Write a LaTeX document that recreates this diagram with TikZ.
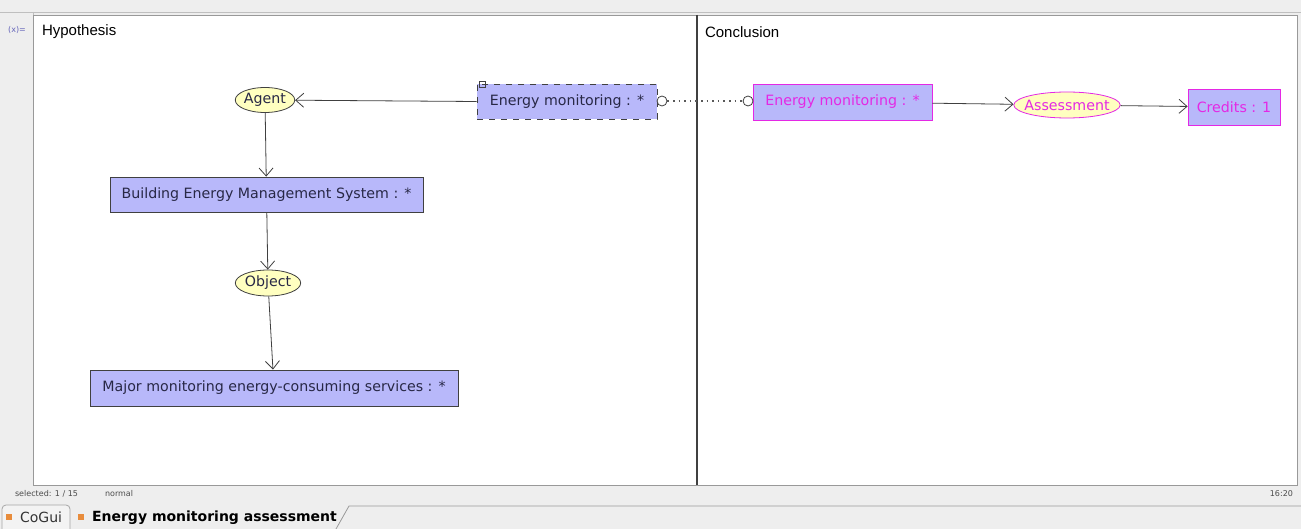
\documentclass[tikz,border=0pt]{standalone}
\usepackage{fontspec}
\setmainfont{DejaVu Sans}
\newfontfamily\panelfont{Liberation Sans}
\usetikzlibrary{arrows.meta,shapes.geometric}
\definecolor{conceptfill}{RGB}{184,184,250}
\definecolor{relfill}{RGB}{255,255,192}
\definecolor{conclmagenta}{RGB}{228,40,228}
\definecolor{guigray}{RGB}{238,238,238}
\definecolor{tabsquare}{RGB}{232,140,60}
\definecolor{labelink}{RGB}{40,40,70}

\begin{document}
\begin{tikzpicture}[
  x=0.5pt, y=-0.5pt,
  font=\fontsize{7.1}{8.5}\selectfont,
  concept/.style={
      draw=black!75,
      fill=conceptfill,
      text=labelink,
      inner sep=0pt,
      minimum height=17.5pt
    },
  relation/.style={
      ellipse,
      draw=black!75,
      fill=relfill,
      text=labelink,
      inner sep=0pt,
      minimum height=12.5pt
    },
  concl/.style={
      draw=conclmagenta,
      text=conclmagenta
    },
  link/.style={
      draw=black!75,
      arrows = {-Straight Barb[length=4pt,width=7pt]}
    },
  coref/.style={
      circle,
      draw=black!75,
      fill=white,
      inner sep=0pt,
      minimum size=5pt
    },
  heading/.style={
      anchor=west,
      font=\panelfont\fontsize{7.5}{9}\selectfont
    },
  status/.style={
      anchor=west,
      text=black!70,
      font=\fontsize{4}{5}\selectfont
    }]

  \useasboundingbox (0,0) rectangle (1301,529);
  \fill [guigray] (0,0) rectangle (1301,529);

  % window frame
  \draw [black!25] (0,12) -- (1301,12);
  \draw [black!40, fill=white] (33,15) rectangle (1297,485);
  \draw [black!25] (33,12) -- (33,15);
  \node [text=black!45!blue!60, font=\fontsize{4}{5}\selectfont] (varicon) at (17,30) {(x)=};
  \draw [black!75, line width=1pt] (697,15) -- (697,485);

  \node [heading] (hyplabel) at (35,32) {Hypothesis};
  \node [heading] (conclabel) at (698,32) {Conclusion};

  \begin{scope}
    \node [relation, minimum width=28pt] (agent) at (265,100) {Agent};
    \node [concept, dashed, minimum width=90pt] (emh) at (567,101.5) {Energy monitoring : *};
    \node [concept, minimum width=156.5pt] (bems) at (266.5,194.5) {Building Energy Management System : *};
    \node [relation, minimum width=31pt, minimum height=13pt] (object) at (268,283) {Object};
    \node [concept, minimum width=184pt, minimum height=18pt] (major) at (274,388) {Major monitoring energy-consuming services : *};
    \draw [black!75] (479,81) rectangle (485,87);

    \draw [link] (emh.west) -- (agent);
    \draw [link] (agent) -- (bems);
    \draw [link] (bems) -- (object);
    \draw [link] (object) -- (major);
  \end{scope}

  \begin{scope}
    \node [concept, concl, minimum width=89.5pt, minimum height=18pt] (emc) at (842.5,102) {Energy monitoring : *};
    \node [relation, concl, inner xsep=-2.5pt, minimum width=47.5pt, minimum height=13pt] (assess) at (1067,105) {Assessment};
    \node [concept, concl, minimum width=46pt, minimum height=18pt] (credits) at (1234,107) {Credits : 1};

    \draw [link] (emc) -- (assess);
    \draw [link] (assess) -- (credits);
  \end{scope}

  \node [coref] (corefh) at (662,101) {};
  \node [coref] (corefc) at (748,101) {};
  \draw [black!65, dotted, thick] (corefh) -- (corefc);

  % status bar and tabs
  \node [status] (selinfo) at (8,494) {selected: 1 / 15};
  \node [status] (modeinfo) at (98,494) {normal};
  \node [status, anchor=east] (clock) at (1300,494) {16:20};
  \draw [black!35, rounded corners=2pt, fill=guigray!70!white] (2,529) -- (2,505) -- (70,505) -- (70,529);
  \fill [tabsquare] (6,514) rectangle (12,520);
  \node [anchor=west, text=black!80, font=\fontsize{7}{8}\selectfont] (cogui) at (13,517) {CoGui};
  \fill [tabsquare] (78,514) rectangle (84,520);
  \node [anchor=west, font=\bfseries\fontsize{7}{8}\selectfont] (tabtitle) at (85,518) {Energy monitoring assessment};
  \draw [black!40] (336,529) -- (349,506) -- (1301,506);
\end{tikzpicture}
\end{document}
